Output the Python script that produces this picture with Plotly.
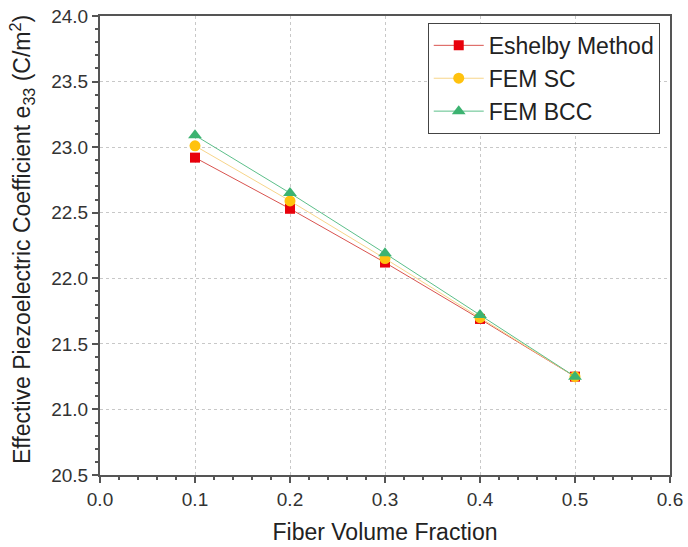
import plotly.graph_objects as go

fraction = [0.1, 0.2, 0.3, 0.4, 0.5]
eshelby = [22.92, 22.53, 22.12, 21.69, 21.25]
fem_sc = [23.01, 22.59, 22.15, 21.70, 21.25]
fem_bcc = [23.09, 22.65, 22.19, 21.72, 21.25]

FONT = "Liberation Sans, Arial"

fig = go.Figure()
fig.add_trace(go.Scatter(x=fraction, y=eshelby, name="Eshelby Method", mode="lines+markers",
                         line=dict(color="#d9534f", width=1),
                         marker=dict(symbol="square", size=10, color="#e8000b")))
fig.add_trace(go.Scatter(x=fraction, y=fem_sc, name="FEM SC", mode="lines+markers",
                         line=dict(color="#f7d58a", width=1),
                         marker=dict(symbol="circle", size=11, color="#ffc20e")))
fig.add_trace(go.Scatter(x=fraction, y=fem_bcc, name="FEM BCC", mode="lines+markers",
                         line=dict(color="#5cbf8a", width=1),
                         marker=dict(symbol="triangle-up", size=12, color="#3cb371")))

axis_common = dict(showline=True, linecolor="#555555", linewidth=2, mirror=True,
                   ticks="outside", ticklen=6, tickcolor="#555555", tickwidth=1.5,
                   showgrid=True, gridcolor="#c8c8c8", griddash="dot", gridwidth=1,
                   zeroline=False, automargin=False, ticklabeloverflow="allow",
                   tickfont=dict(family=FONT, size=19, color="#333333"),
                   minor=dict(ticks="outside", ticklen=3, tickcolor="#555555", showgrid=False))

fig.update_xaxes(range=[0, 0.6], dtick=0.1, tickformat=".1f",
                 title=dict(text="Fiber Volume Fraction", standoff=15,
                            font=dict(family=FONT, size=23, color="#222222")),
                 **axis_common)
fig.update_yaxes(range=[20.5, 24.0], dtick=0.5, tickformat=".1f", **axis_common)

fig.add_annotation(text="Effective Piezoelectric Coefficient e<sub>33</sub> (C/m<sup>2</sup>)",
                   xref="paper", yref="paper", x=-0.137, y=0.514,
                   xanchor="center", yanchor="middle", textangle=-90, showarrow=False,
                   font=dict(family=FONT, size=23, color="#222222"))

fig.update_layout(
    width=688, height=547,
    margin=dict(l=100, r=18, t=16, b=72),
    paper_bgcolor="white", plot_bgcolor="white",
    showlegend=True,
    legend=dict(x=0.982, y=0.985, xanchor="right", yanchor="top",
                bgcolor="white", bordercolor="#444444", borderwidth=1,
                font=dict(family=FONT, size=23, color="#222222"),
                tracegroupgap=0, itemwidth=50),
)

# remove the browser's default 8px body margin so the figure fills the window exactly
fig.write_html("out.html", config={"displayModeBar": False},
               post_script="document.body.style.margin='0';document.body.style.overflow='hidden';")
